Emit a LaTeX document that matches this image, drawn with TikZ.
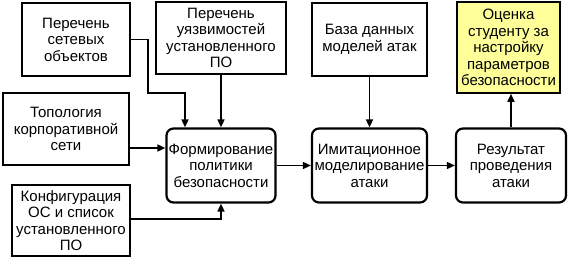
\documentclass[tikz,border=0pt]{standalone}
\usepackage{fontspec}
\setmainfont{Liberation Sans}
\usetikzlibrary{arrows.meta}
\definecolor{markyellow}{RGB}{255,255,153}
\begin{document}
\begin{tikzpicture}[
  x=1pt, y=-1pt,
  src/.style={draw=black, line width=1.6pt, align=center, inner sep=1pt,
    font=\fontsize{15}{16.5}\selectfont},
  proc/.style={src, line width=2.2pt, rounded corners=7pt},
  evalbox/.style={src, fill=markyellow},
  arr/.style={line width=1.6pt, -{Triangle[length=8pt,width=7pt]}}
]
\useasboundingbox (0,0) rectangle (568,280);
\node[src, minimum width=108pt, minimum height=73pt] (net)  at (76,39.5)   {Перечень\\сетевых\\объектов};
\node[src, minimum width=130pt, minimum height=72pt] (vuln) at (221,38)    {Перечень\\уязвимостей\\установленного\\ПО};
\node[src, minimum width=126pt, minimum height=72pt] (topo) at (66,129)    {Топология\\корпоративной\\сети};
\node[src, minimum width=118pt, minimum height=71pt] (conf) at (71,220.5)  {Конфигурация\\ОС и список\\установленного\\ПО};
\node[src, minimum width=115pt, minimum height=73pt] (db)   at (369.5,39.5) {База данных\\моделей атак};
\node[evalbox, minimum width=103pt, minimum height=91pt] (eval) at (508.5,47.5) {Оценка\\студенту за\\настройку\\параметров\\безопасности};

\node[proc, minimum width=109pt, minimum height=74pt] (form) at (221,165.5)   {Формирование\\политики\\безопасности};
\node[proc, minimum width=115pt, minimum height=74pt] (sim)  at (369.5,165.5) {Имитационное\\моделирование\\атаки};
\node[proc, minimum width=110pt, minimum height=74pt] (res)  at (511,165.5)   {Результат\\проведения\\атаки};

\draw[arr] (net.east) -| (148,93) -| ([xshift=-36pt]form.north);
\draw[arr] (vuln.south) -- (form.north);
\draw[arr] (topo.east |- 0,148) -- (form.west |- 0,148);
\draw[arr] (conf.east |- 0,219) -| (form.south);
\draw[arr] (db.south) -- (sim.north);
\draw[arr] (form.east) -- (sim.west);
\draw[arr] (sim.east) -- (res.west);
\draw[arr] (res.north) -- (res.north |- eval.south);
\end{tikzpicture}
\end{document}
